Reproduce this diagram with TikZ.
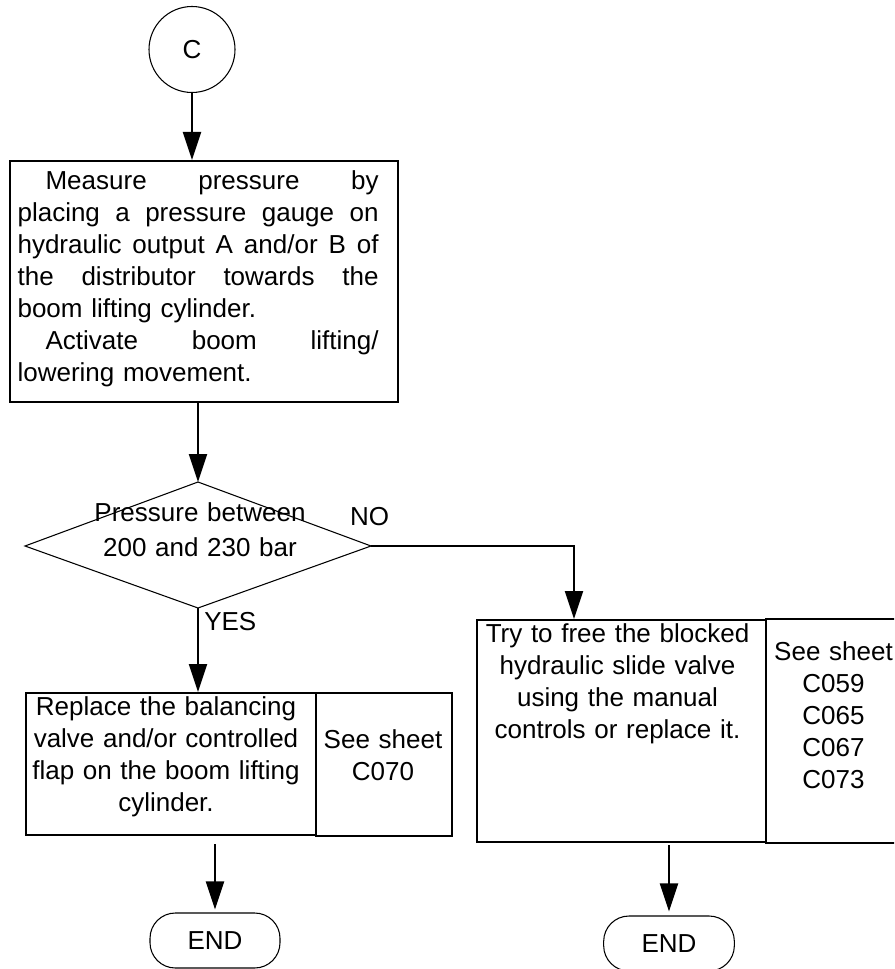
\documentclass[tikz,border=0pt]{standalone}
\usepackage{fontspec}
\setmainfont{Liberation Sans}
\usetikzlibrary{arrows.meta,calc}
\newcommand{\jl}[1]{\makebox[270.75pt][s]{\spaceskip=0.278em plus 1fil\relax #1}}
\begin{document}
\begin{tikzpicture}[x=0.75pt,y=-0.75pt,
  f/.style={font=\fontsize{19.5}{24}\selectfont},
  box/.style={draw,line width=1.5pt,inner sep=0pt,anchor=north west},
  thinline/.style={draw,line width=0.8pt},
  conn/.style={line width=1.5pt,-{Triangle[length=21pt,width=13.5pt]}},
  txt/.style={f,inner sep=0pt,anchor=base,align=center},
]
\useasboundingbox (0,0) rectangle (894,969);
\clip (0,0) rectangle (894,969);

% start connector
\node[thinline,circle,minimum size=64.5pt,inner sep=0pt,f] (c) at (192,49.5) {C};

% first process box
\node[box,minimum width=291.4pt,minimum height=180.75pt] (b1) at (8.5,160) {};
\node[f,anchor=base west,inner sep=0pt,text width=272pt,align=left] (t1) at (17.3,189.3)
{\jl{\hspace*{21pt}Measure pressure by}\\
\jl{placing a pressure gauge on}\\
\jl{hydraulic output A and/or B of}\\
\jl{the distributor towards the}\\
boom lifting cylinder.\\
\jl{\hspace*{21pt}Activate boom lifting/}\\
lowering movement.};

\draw[conn] (c.south) -- (c.south |- b1.north);

% decision
\coordinate (dt) at (198,482);
\coordinate (dl) at (25,546);
\coordinate (dr) at (371,546);
\coordinate (db) at (198,608);
\draw[thinline] (dt) -- (dr) -- (db) -- (dl) -- cycle;
\node[txt,text width=225pt,font=\fontsize{19.5}{26.25}\selectfont] (dq) at (200,521.7)
{Pressure between\\200 and 230 bar};
\draw[conn] (dt |- b1.south) -- (dt);

\node[txt] (no) at (369.5,525) {NO};
\node[txt,anchor=base west] (yes) at (204,630) {YES};

% left boxes
\node[box,minimum width=217.5pt,minimum height=106.5pt] (lm) at (25,692) {};
\node[box,minimum width=102pt,minimum height=107.25pt] (ls) at (315,692) {};
\node[txt,text width=217pt] (lmt) at (166,715)
{Replace the balancing\\valve and/or controlled\\flap on the boom lifting\\cylinder.};
\node[txt,text width=100pt] (lst) at (383,748) {See sheet\\C070};
\draw[conn] (db) -- (db |- lm.north);

% right boxes
\node[box,minimum width=216.75pt,minimum height=166.5pt] (rm) at (476,619) {};
\node[box,minimum width=102.75pt,minimum height=168pt] (rs) at (765,618) {};
\node[txt,text width=216pt] (rmt) at (617.5,642.7)
{Try to free the blocked\\hydraulic slide valve\\using the manual\\controls or replace it.};
\node[txt,text width=100pt] (rst) at (833.5,660) {See sheet\\C059\\C065\\C067\\C073};
\coordinate (nb) at (574,546);
\draw[conn] (dr) -- (nb) -- (nb |- rm.north);

% ends
\node[thinline,rounded corners=19pt,minimum width=97.5pt,minimum height=41.25pt,f,inner sep=0pt] (e1) at (215,940.5) {END};
\node[thinline,rounded corners=19pt,minimum width=98pt,minimum height=41.25pt,f,inner sep=0pt] (e2) at (669,943.5) {END};
\draw[conn,shorten <=6pt,shorten >=2.25pt] (lm.south -| e1.north) -- (e1.north);
\draw[conn,shorten <=1.5pt,shorten >=3pt] (rm.south -| e2.north) -- (e2.north);
\end{tikzpicture}
\end{document}
